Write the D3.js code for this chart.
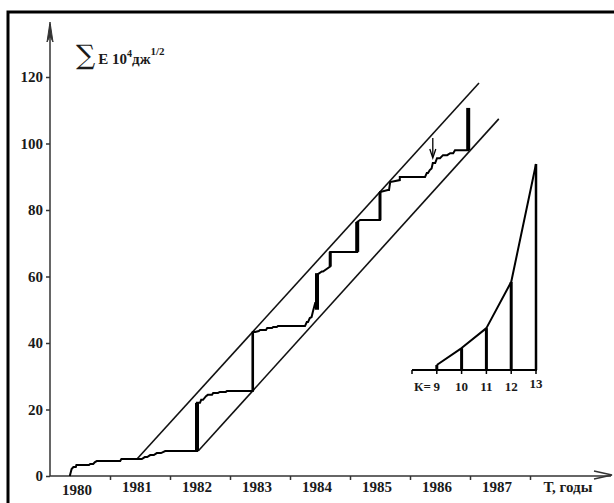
<!DOCTYPE html>
<html>
<head>
<meta charset="utf-8">
<script src="https://cdn.jsdelivr.net/npm/d3@7"></script>
<style>
  body { margin: 0; background: #fff; overflow: hidden; }
  svg { display: block; }
  svg text { font-family: "Liberation Serif", "DejaVu Serif", serif; font-weight: bold; fill: #1a1a1a; }
</style>
</head>
<body>
<div id="chart"></div>
<script>
// year labels and tick values
var years = [1980, 1981, 1982, 1983, 1984, 1985, 1986, 1987];
var yearTicks = [1981, 1982, 1983, 1984, 1985, 1986, 1987, 1988];
var eTicks = [0, 20, 40, 60, 80, 100, 120];

// cumulative energy staircase (year, sum E)
var stairT = [1980.33, 1980.36, 1980.39, 1980.43, 1980.44, 1980.65, 1980.67, 1980.72, 1980.75, 1980.78,
  1981.17, 1981.19, 1981.45, 1981.53, 1981.58, 1981.62, 1981.67, 1981.73, 1981.78, 1981.85, 1981.92, 1982.45,
  1982.45, 1982.5, 1982.52, 1982.55, 1982.6, 1982.63, 1982.7, 1982.72, 1982.8, 1982.83, 1982.93, 1982.95, 1983.38,
  1983.38, 1983.42, 1983.48, 1983.5, 1983.6, 1983.62, 1983.7, 1983.72, 1983.78, 1983.8, 1984.25,
  1984.28, 1984.3, 1984.33, 1984.36, 1984.38, 1984.42, 1984.45,
  1984.45, 1984.53, 1984.55, 1984.67, 1984.67, 1985.12,
  1985.12, 1985.17, 1985.5,
  1985.5, 1985.63, 1985.65, 1985.67, 1985.83, 1985.83, 1986.17, 1986.25, 1986.28, 1986.3, 1986.33, 1986.36, 1986.38,
  1986.42, 1986.45, 1986.5, 1986.55, 1986.62, 1986.67, 1986.72, 1986.75, 1986.97, 1986.97];
var stairE = [0, 2.1, 2.7, 2.7, 3.3, 3.3, 3.6, 3.6, 4.2, 4.5,
  4.5, 5.1, 5.1, 5.1, 5.7, 5.7, 6.3, 6.3, 6.9, 6.9, 7.5, 7.5,
  22.0, 22.0, 22.9, 22.9, 24.0, 24.4, 24.4, 25.0, 25.0, 25.3, 25.3, 25.6, 25.6,
  43.3, 43.3, 43.6, 43.9, 43.9, 44.5, 44.5, 44.8, 44.8, 45.1, 45.1,
  46.3, 46.3, 47.5, 47.8, 49.3, 52.0, 52.0,
  60.5, 61.5, 61.5, 63.0, 67.4, 67.4,
  76.4, 77.0, 77.0,
  85.4, 86.0, 86.0, 88.4, 89.0, 89.9, 89.9, 89.9, 91.1, 91.1, 92.0, 92.5, 94.1,
  94.1, 95.6, 95.6, 96.5, 96.5, 97.1, 97.1, 98.0, 98.0, 110.7];

// thick jumps (year, from, to)
var jumpT = [1982.45, 1983.38, 1984.45, 1984.67, 1985.12, 1985.5, 1986.97];
var jumpFrom = [7.5, 25.6, 50.0, 63.0, 67.4, 77.0, 98.0];
var jumpTo = [22.0, 43.3, 61.0, 67.4, 76.4, 85.4, 110.7];
var jumpW = [4, 2.5, 4, 3, 4, 3, 4];

// envelope lines
var upperT = [1981.45, 1987.15], upperE = [5.1, 118.2];
var lowerT = [1982.47, 1987.48], lowerE = [7.5, 107.4];

// inset: energy vs K
var insetK = [9, 10, 11, 12, 13];
var insetV = [1.5, 6.6, 12.6, 26.5, 62.0];

var width = 614, height = 503;
var svg = d3.select("#chart").append("svg")
  .attr("width", width).attr("height", height);

// frame (only left and top edges are inside the picture)
svg.append("rect")
  .attr("x", 8).attr("y", 12).attr("width", 640).attr("height", 520)
  .attr("fill", "none").attr("stroke", "#000").attr("stroke-width", 3);

var x = d3.scaleLinear().domain([1980, 1989]).range([50, 590]);
var y = d3.scaleLinear().domain([0, 120]).range([476, 77]);

// axes
var xAxis = svg.append("g")
  .attr("transform", "translate(0," + y(0) + ")")
  .call(d3.axisBottom(x).tickValues(yearTicks).tickSize(4).tickFormat(""));
xAxis.select(".domain").remove();
xAxis.selectAll("line").attr("stroke", "#333").attr("stroke-width", 1.5);

var yAxis = svg.append("g")
  .attr("transform", "translate(" + x(1980) + ",0)")
  .call(d3.axisLeft(y).tickValues(eTicks).tickSize(4).tickPadding(3));
yAxis.select(".domain").remove();
yAxis.selectAll("line").attr("stroke", "#333").attr("stroke-width", 1.5);
yAxis.selectAll("text")
  .style("font-size", "15px").style("font-family", "Liberation Serif").style("font-weight", "bold").attr("fill", "#1a1a1a");

// axis lines with arrows
svg.append("line")
  .attr("x1", x(1980)).attr("y1", y(0)).attr("x2", 611).attr("y2", y(0))
  .attr("stroke", "#333").attr("stroke-width", 1.5);
svg.append("path")
  .attr("d", "M594," + (y(0) - 5) + "L612," + (y(0) - 1) + "L594," + (y(0) + 3))
  .attr("fill", "none").attr("stroke", "#333").attr("stroke-width", 1.5);
svg.append("line")
  .attr("x1", x(1980)).attr("y1", y(0)).attr("x2", x(1980)).attr("y2", 24)
  .attr("stroke", "#333").attr("stroke-width", 1.5);
svg.append("path")
  .attr("d", "M" + (x(1980) - 3) + ",42L" + x(1980) + ",22L" + (x(1980) + 3) + ",42L" + x(1980) + ",36Z")
  .attr("fill", "#333").attr("stroke", "#333").attr("stroke-width", 1);

// year labels
svg.selectAll(".yr").data(years).enter().append("text")
  .attr("class", "yr")
  .attr("x", d => x(d + 0.45))
  .attr("y", (d, i) => i === 0 ? 495 : 492)
  .attr("text-anchor", "middle")
  .style("font-size", "15px")
  .text(d => d);

svg.append("text")
  .attr("x", 568).attr("y", 492)
  .attr("text-anchor", "middle")
  .style("font-size", "15px")
  .text("Т, годы");

// y title
var title = svg.append("text").attr("x", 76).attr("y", 64);
title.append("tspan").style("font-size", "27px").style("font-weight", "normal").style("font-family", "DejaVu Serif").text("∑");
title.append("tspan").attr("dx", 3).style("font-size", "15px").text("E 10");
title.append("tspan").attr("dy", -7).style("font-size", "10px").text("4");
title.append("tspan").attr("dy", 7).style("font-size", "15px").text("дж");
title.append("tspan").attr("dy", -9).style("font-size", "11px").text("1/2");

// envelope lines
var line = d3.line().x(d => x(d[0])).y(d => y(d[1]));
svg.append("path")
  .attr("d", line(d3.zip(upperT, upperE)))
  .attr("fill", "none").attr("stroke", "#111").attr("stroke-width", 1.6);
svg.append("path")
  .attr("d", line(d3.zip(lowerT, lowerE)))
  .attr("fill", "none").attr("stroke", "#111").attr("stroke-width", 1.6);

// staircase
svg.append("path")
  .attr("d", line(d3.zip(stairT, stairE)))
  .attr("fill", "none").attr("stroke", "#000").attr("stroke-width", 2)
  .attr("stroke-linejoin", "miter");

// thick jumps
svg.selectAll(".jump").data(jumpT).enter().append("line")
  .attr("class", "jump")
  .attr("x1", d => x(d)).attr("x2", d => x(d))
  .attr("y1", (d, i) => y(jumpFrom[i])).attr("y2", (d, i) => y(jumpTo[i]))
  .attr("stroke", "#000").attr("stroke-width", (d, i) => jumpW[i]);

// marker arrow above 1986
var ax = x(1986.38);
svg.append("line").attr("x1", ax).attr("y1", 138).attr("x2", ax).attr("y2", 156)
  .attr("stroke", "#000").attr("stroke-width", 1.3);
svg.append("path").attr("d", "M" + (ax - 3) + ",149L" + ax + ",158L" + (ax + 3) + ",149")
  .attr("fill", "none").attr("stroke", "#000").attr("stroke-width", 1.3);

// inset
var kx = d3.scaleLinear().domain([8, 13]).range([412, 536]);
var ky = d3.scaleLinear().domain([0, 62]).range([370, 164]);

svg.append("line").attr("x1", kx(8)).attr("x2", kx(13) + 1).attr("y1", ky(0)).attr("y2", ky(0))
  .attr("stroke", "#000").attr("stroke-width", 2);
svg.selectAll(".ktick").data([8].concat(insetK)).enter().append("line")
  .attr("class", "ktick")
  .attr("x1", d => kx(d)).attr("x2", d => kx(d))
  .attr("y1", ky(0)).attr("y2", ky(0) + 4)
  .attr("stroke", "#000").attr("stroke-width", 1.5);

svg.selectAll(".kbar").data(insetK).enter().append("line")
  .attr("class", "kbar")
  .attr("x1", d => kx(d)).attr("x2", d => kx(d))
  .attr("y1", ky(0)).attr("y2", (d, i) => ky(insetV[i]))
  .attr("stroke", "#000").attr("stroke-width", (d, i) => i === 4 ? 2.5 : 3);

svg.append("path")
  .attr("d", d3.line().x(d => kx(d[0])).y(d => ky(d[1]))(d3.zip(insetK, insetV)))
  .attr("fill", "none").attr("stroke", "#000").attr("stroke-width", 2)
  .attr("stroke-linejoin", "round");

svg.selectAll(".klab").data(insetK).enter().append("text")
  .attr("class", "klab")
  .attr("x", d => kx(d)).attr("y", (d, i) => i === 4 ? 388 : 391)
  .attr("text-anchor", "middle")
  .style("font-size", "13px")
  .text(d => d);
svg.append("text")
  .attr("x", kx(9) - 6).attr("y", 391)
  .attr("text-anchor", "end")
  .style("font-size", "13px")
  .text("К=");
</script>
</body>
</html>
